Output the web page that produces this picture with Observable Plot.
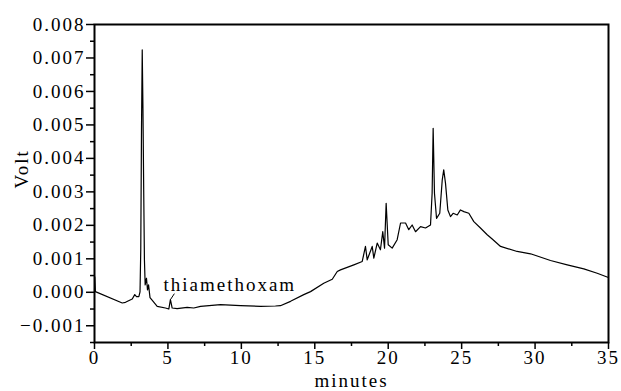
<!DOCTYPE html>
<html>
<head>
<meta charset="utf-8">
<script src="https://cdn.jsdelivr.net/npm/d3@7"></script>
<script src="https://cdn.jsdelivr.net/npm/@observablehq/plot@0.6"></script>
<style>
  html, body { margin: 0; padding: 0; background: #fff; }
</style>
</head>
<body>
<div id="chart"></div>
<script>
// Retention time (minutes) and detector signal (Volt)
const minutes = [
  0.00, 0.02, 0.06, 1.89, 2.11, 2.57, 2.74, 2.86, 3.02, 3.10,
  3.15, 3.20, 3.25, 3.30, 3.35, 3.40, 3.45, 3.54, 3.61, 3.68,
  3.78, 3.95, 4.27, 4.83, 5.06, 5.17, 5.29, 5.63, 6.31, 6.76,
  7.22, 8.58, 9.94, 11.30, 12.32, 12.66, 13.35, 14.25, 14.71, 15.61,
  16.19, 16.53, 16.75, 17.66, 18.23, 18.45, 18.57, 18.91, 19.02, 19.25,
  19.47, 19.63, 19.75, 19.86, 20.00, 20.27, 20.61, 20.84, 21.18, 21.40,
  21.63, 21.86, 22.20, 22.54, 22.88, 22.99, 23.06, 23.15, 23.29, 23.51,
  23.68, 23.78, 23.90, 24.06, 24.24, 24.42, 24.70, 24.92, 25.15, 25.49,
  25.83, 26.28, 26.74, 27.08, 27.65, 28.78, 29.69, 31.05, 32.19, 33.32,
  34.23, 34.95
];
const volts = [
  0.00000, 0.00046, 0.00002, -0.00032, -0.00030, -0.00020, -0.00007, -0.00013, -0.00013, 0.00001,
  0.00127, 0.00485, 0.00724, 0.00545, 0.00306, 0.00097, 0.00022, 0.00042, 0.00007, 0.00022,
  -0.00016, -0.00025, -0.00042, -0.00047, -0.00050, -0.00022, -0.00047, -0.00049, -0.00045, -0.00047,
  -0.00042, -0.00037, -0.00040, -0.00042, -0.00041, -0.00040, -0.00027, -0.00007, 0.00002, 0.00027,
  0.00039, 0.00062, 0.00067, 0.00082, 0.00092, 0.00137, 0.00097, 0.00137, 0.00102, 0.00147,
  0.00127, 0.00181, 0.00132, 0.00266, 0.00142, 0.00132, 0.00157, 0.00207, 0.00207, 0.00187,
  0.00201, 0.00181, 0.00196, 0.00192, 0.00201, 0.00296, 0.00490, 0.00296, 0.00221, 0.00236,
  0.00336, 0.00366, 0.00326, 0.00246, 0.00226, 0.00236, 0.00231, 0.00246, 0.00241, 0.00236,
  0.00211, 0.00192, 0.00172, 0.00159, 0.00137, 0.00122, 0.00115, 0.00095, 0.00082, 0.00070,
  0.00057, 0.00045
];

const xTicks = [0, 5, 10, 15, 20, 25, 30, 35];
const xMinorTicks = [2.5, 7.5, 12.5, 17.5, 22.5, 27.5, 32.5];
const yTicks = [-0.001, 0, 0.001, 0.002, 0.003, 0.004, 0.005, 0.006, 0.007, 0.008];
const yMinorTicks = [-0.0015, -0.0005, 0.0005, 0.0015, 0.0025, 0.0035, 0.0045, 0.0055, 0.0065, 0.0075];

const xLabel = "minutes";
const yLabel = "Volt";
const annotationLabel = "thiamethoxam";
const annotationMinutes = 5.17;
const annotationVolt = -0.00022;

const data = minutes.map((m, i) => ({minutes: m, volt: volts[i]}));
const annot = [{minutes: annotationMinutes, volt: annotationVolt, label: annotationLabel}];

const chart = Plot.plot({
  width: 621,
  height: 391,
  marginLeft: 94,
  marginRight: 13,
  marginTop: 24,
  marginBottom: 49,
  x: {domain: [0, 35]},
  y: {domain: [-0.0015, 0.008]},
  style: {
    fontFamily: "'Liberation Serif', 'Times New Roman', serif",
    fontSize: "19px",
    letterSpacing: "2px",
    color: "black",
    background: "white"
  },
  marks: [
    Plot.axisX(xMinorTicks, {tickSize: 4, tickFormat: () => "", strokeWidth: 1.5, label: null}),
    Plot.axisX(xTicks, {tickSize: 7, tickPadding: 1, tickFormat: d => String(d), strokeWidth: 1.5, label: null}),
    Plot.axisY(yMinorTicks, {tickSize: 4, tickFormat: () => "", strokeWidth: 1.5, label: null}),
    Plot.axisY(yTicks, {tickSize: 8, tickPadding: 1, tickFormat: d3.format(".3f"), strokeWidth: 1.5, label: null}),
    Plot.line(data, {x: "minutes", y: "volt", stroke: "black", strokeWidth: 1.2}),
    Plot.link(annot, {
      x1: "minutes", y1: "volt",
      x2: d => d.minutes + 0.27, y2: d => d.volt + 0.00018,
      stroke: "black", strokeWidth: 1
    }),
    Plot.text(annot, {
      x: "minutes", y: "volt", text: "label",
      textAnchor: "start", lineAnchor: "bottom", dx: -7, dy: -9
    }),
    Plot.text([xLabel], {frameAnchor: "bottom", dy: 44, lineAnchor: "bottom", text: d => d}),
    Plot.text([yLabel], {frameAnchor: "left", dx: -73, dy: 5, rotate: -90, text: d => d}),
    Plot.frame({stroke: "black", strokeWidth: 2})
  ]
});

document.getElementById("chart").appendChild(chart);
</script>
</body>
</html>
